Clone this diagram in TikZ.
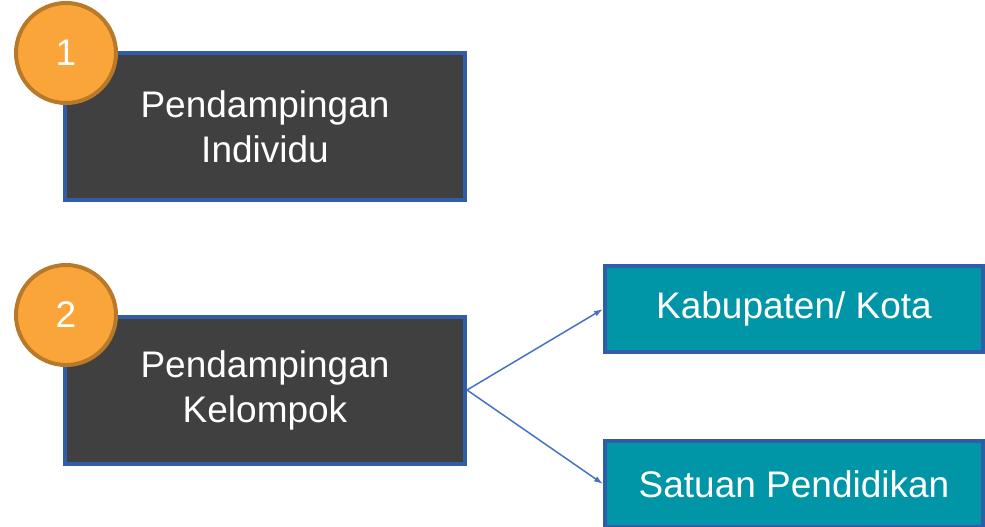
\documentclass[tikz,border=0pt]{standalone}
\usepackage{fontspec}
\setmainfont{Liberation Sans}
\usetikzlibrary{arrows.meta}
\definecolor{darkbox}{RGB}{64,64,64}
\definecolor{edgeblue}{RGB}{47,93,168}
\definecolor{tealbox}{RGB}{0,150,167}
\definecolor{badgefill}{RGB}{250,165,58}
\definecolor{badgeedge}{RGB}{184,121,42}
\definecolor{linkblue}{RGB}{68,114,196}

\begin{document}
\begin{tikzpicture}
[
    x=1pt, y=-1pt,
    every node/.style={font=\fontsize{37}{45}\selectfont, text=white},
    mainbox/.style={draw=edgeblue, fill=darkbox, line width=4pt, minimum width=400pt, minimum height=147pt, align=center, inner sep=0pt},
    subbox/.style={draw=edgeblue, fill=tealbox, line width=4pt, minimum width=378pt, minimum height=86pt, inner sep=0pt},
    badge/.style={circle, draw=badgeedge, fill=badgefill, line width=4pt, minimum size=100pt, inner sep=0pt},
    link/.style={draw=linkblue, line width=1.5pt, -{Latex[length=9pt, width=6pt]}},
]
\useasboundingbox (0,0) rectangle (985,527);
\node [mainbox] (indiv) at (265,126.5) {Pendampingan\\Individu};
\node [mainbox] (kelompok) at (265,390) {Pendampingan\\Kelompok};
\node [subbox] (kab) at (794,309) {Kabupaten/ Kota};
\node [subbox] (satuan) at (794,484) {Satuan Pendidikan};
\node [badge] (one) at (66,53) {1};
\node [badge] (two) at (66,315) {2};
\draw [link] (kelompok.east) -- (kab.west);
\draw [link] (kelompok.east) -- (satuan.west);
\end{tikzpicture}
\end{document}
